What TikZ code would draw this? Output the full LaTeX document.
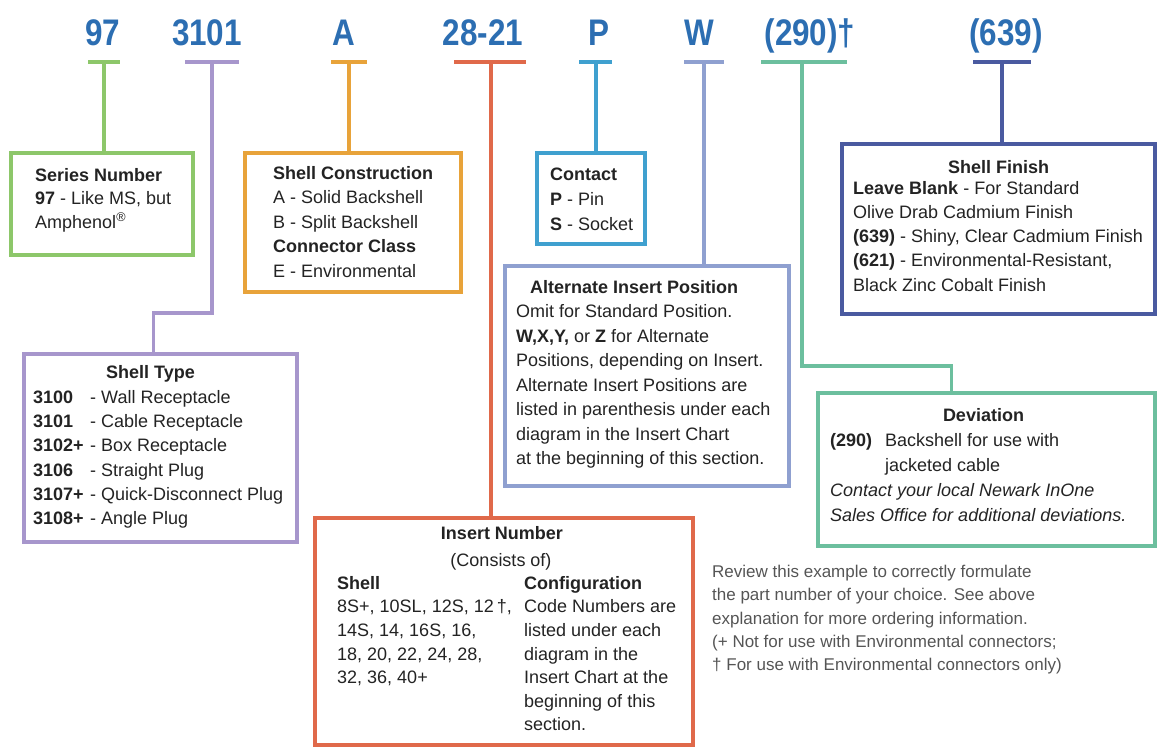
\documentclass[tikz,border=0pt]{standalone}
\usepackage{fontspec}
\setmainfont{Liberation Sans}
\newfontfamily\partfont[FakeStretch=0.85]{Liberation Sans}
\usetikzlibrary{positioning}
\definecolor{cPart}{RGB}{44,110,178}
\definecolor{cInk}{RGB}{35,35,35}
\definecolor{cNote}{RGB}{85,85,85}
\definecolor{cGreen}{RGB}{141,199,106}
\definecolor{cLilac}{RGB}{167,150,204}
\definecolor{cOrange}{RGB}{232,163,58}
\definecolor{cRed}{RGB}{224,105,74}
\definecolor{cSky}{RGB}{63,160,207}
\definecolor{cPeri}{RGB}{143,160,208}
\definecolor{cTeal}{RGB}{108,191,158}
\definecolor{cNavy}{RGB}{74,90,160}
\tikzset{
	partno/.style  ={font=\partfont\bfseries\fontsize{37}{37}\selectfont, text=cPart, inner sep=0pt, anchor=base},
	tick/.style    ={line width=4.5pt},
	lead/.style    ={line width=3.5pt},
	infobox/.style ={rectangle, line width=3.5pt, anchor=north west, inner sep=0pt, outer sep=0pt},
	infotext/.style={align=left, inner sep=0pt, text=cInk, font=\fontsize{18}{24}\selectfont},
	infohead/.style={inner sep=0pt, text=cInk, font=\bfseries\fontsize{18}{24}\selectfont},
}
\begin{document}
\begin{tikzpicture}[x=1pt, y=-1pt]
	\useasboundingbox (0,0) rectangle (1157,747);
	% part number
	\node[partno] (pSeries)  at (103,45)  {97};
	\node[partno] (pShell)   at (207,45)  {3101};
	\node[partno] (pBack)    at (344,45)  {A};
	\node[partno] (pInsert)  at (483,45)  {28-21};
	\node[partno] (pContact) at (599,45)  {P};
	\node[partno] (pAlt)     at (699,45)  {W};
	\node[partno] (pDev)     at (810,45)  {(290)†};
	\node[partno] (pFinish)  at (1006,45) {(639)};
	\coordinate (tSeries)  at (104,62);
	\coordinate (tShell)   at (212,62);
	\coordinate (tBack)    at (349,62);
	\coordinate (tInsert)  at (491,62);
	\coordinate (tContact) at (596,62);
	\coordinate (tAlt)     at (704,62);
	\coordinate (tDev)     at (802,62);
	\coordinate (tFinish)  at (1002,62);
	% boxes
	\node[infobox, draw=cGreen,  minimum width=182pt, minimum height=102pt] (series)    at (11,153)  {};
	\node[infobox, draw=cOrange, minimum width=216pt, minimum height=139pt] (shellcon)  at (245,153) {};
	\node[infobox, draw=cSky,    minimum width=108pt, minimum height=91pt]  (contact)   at (537,153) {};
	\node[infobox, draw=cPeri,   minimum width=284pt, minimum height=220pt] (altpos)    at (505,266) {};
	\node[infobox, draw=cNavy,   minimum width=313pt, minimum height=170pt] (finish)    at (842,144) {};
	\node[infobox, draw=cTeal,   minimum width=337pt, minimum height=153pt] (deviation) at (818,393) {};
	\node[infobox, draw=cLilac,  minimum width=273pt, minimum height=188pt] (shelltype) at (24,354)  {};
	\node[infobox, draw=cRed,    minimum width=378pt, minimum height=227pt] (insert)    at (315,518) {};
	% ticks and leads
	\draw[tick, cGreen]  ([xshift=-16pt]tSeries)  -- ([xshift=16pt]tSeries);
	\draw[tick, cLilac]  ([xshift=-27pt]tShell)   -- ([xshift=27pt]tShell);
	\draw[tick, cOrange] ([xshift=-18pt]tBack)    -- ([xshift=18pt]tBack);
	\draw[tick, cRed]    ([xshift=-37pt]tInsert)  -- ([xshift=35pt]tInsert);
	\draw[tick, cSky]    ([xshift=-17pt]tContact) -- ([xshift=16pt]tContact);
	\draw[tick, cPeri]   ([xshift=-20pt]tAlt)     -- ([xshift=20pt]tAlt);
	\draw[tick, cTeal]   ([xshift=-41pt]tDev)     -- ([xshift=45pt]tDev);
	\draw[tick, cNavy]   ([xshift=-29pt]tFinish)  -- ([xshift=29pt]tFinish);
	\draw[lead, cGreen]  (tSeries) -- (tSeries |- series.north);
	\draw[lead, cLilac]  (tShell) -- ++(0,251) -| ([xshift=-7pt]shelltype.north);
	\draw[lead, cOrange] (tBack) -- (tBack |- shellcon.north);
	\draw[lead, cRed]    (tInsert) -- (tInsert |- insert.north);
	\draw[lead, cSky]    (tContact) -- (tContact |- contact.north);
	\draw[lead, cPeri]   (tAlt) -- (tAlt |- altpos.north);
	\draw[lead, cTeal]   (tDev) -- ++(0,304) -| ([xshift=-35pt]deviation.north);
	\draw[lead, cNavy]   (tFinish) -- (tFinish |- finish.north);
	% box texts
	\node[infotext, below right=15pt and 24pt of series.north west, font=\fontsize{18}{23.5}\selectfont] (seriesTxt)
		{\textbf{Series Number}\\ \textbf{97} - Like MS, but\\ Amphenol\textsuperscript{®}};
	\node[infotext, below right=13pt and 28pt of shellcon.north west, font=\fontsize{18}{24.5}\selectfont] (shellconTxt)
		{\textbf{Shell Construction}\\ A - Solid Backshell\\ B - Split Backshell\\ \textbf{Connector Class}\\ E - Environmental};
	\node[infotext, below right=15pt and 13pt of contact.north west, font=\fontsize{18}{25}\selectfont] (contactTxt)
		{\textbf{Contact}\\ \textbf{P} - Pin\\ \textbf{S} - Socket};
	\node[infotext, below right=14pt and 11pt of altpos.north west, font=\fontsize{18}{24.5}\selectfont] (altposTxt)
		{\hspace*{14pt}\textbf{Alternate Insert Position}\\ Omit for Standard Position.\\ \textbf{W,X,Y,} or \textbf{Z} for Alternate\\ Positions, depending on Insert.\\ Alternate Insert Positions are\\ listed in parenthesis under each\\ diagram in the Insert Chart\\ at the beginning of this section.};
	\node[infohead, below=16pt of finish.north] (finishHd) {Shell Finish};
	\node[infotext, below right=37pt and 11pt of finish.north west, font=\fontsize{18}{24.25}\selectfont] (finishTxt)
		{\textbf{Leave Blank} - For Standard\\ Olive Drab Cadmium Finish\\ \textbf{(639)} - Shiny, Clear Cadmium Finish\\ \textbf{(621)} - Environmental-Resistant,\\ Black Zinc Cobalt Finish};
	\node[infohead, below=15pt of deviation.north, xshift=-3pt] (deviationHd) {Deviation};
	\node[infotext, below right=40pt and 12pt of deviation.north west, font=\fontsize{18}{25}\selectfont] (deviationTxt)
		{\makebox[55pt][l]{\textbf{(290)}}Backshell for use with\\ \hspace*{55pt}jacketed cable\\ \textit{Contact your local Newark InOne}\\ \textit{Sales Office for additional deviations.}};
	\node[infohead, below=11pt of shelltype.north, xshift=-10pt] (shelltypeHd) {Shell Type};
	\node[infotext, below right=36pt and 9pt of shelltype.north west, font=\fontsize{18}{24.3}\selectfont] (shelltypeTxt)
		{\makebox[57pt][l]{\textbf{3100}}- Wall Receptacle\\
		 \makebox[57pt][l]{\textbf{3101}}- Cable Receptacle\\
		 \makebox[57pt][l]{\textbf{3102+}}- Box Receptacle\\
		 \makebox[57pt][l]{\textbf{3106}}- Straight Plug\\
		 \makebox[57pt][l]{\textbf{3107+}}- Quick-Disconnect Plug\\
		 \makebox[57pt][l]{\textbf{3108+}}- Angle Plug};
	\node[infohead, below=8pt of insert.north, xshift=-2pt] (insertHd) {Insert Number};
	\node[infotext, below=35pt of insert.north, xshift=-3pt] (insertSub) {(Consists of)};
	\node[infotext, below right=58pt and 22pt of insert.north west, font=\fontsize{18}{23.6}\selectfont] (insertShell)
		{\textbf{Shell}\\ 8S+, 10SL, 12S, 12\,†,\\ 14S, 14, 16S, 16,\\ 18, 20, 22, 24, 28,\\ 32, 36, 40+};
	\node[infotext, below right=58pt and 209pt of insert.north west, font=\fontsize{18}{23.6}\selectfont] (insertConf)
		{\textbf{Configuration}\\ Code Numbers are\\ listed under each\\ diagram in the\\ Insert Chart at the\\ beginning of this\\ section.};
	% note
	\node[infotext, anchor=north west, text=cNote, font=\fontsize{17}{23.3}\selectfont] (note) at (712,565)
		{Review this example to correctly formulate\\ the part number of your choice. See above\\ explanation for more ordering information.\\ (+ Not for use with Environmental connectors;\\ † For use with Environmental connectors only)};
\end{tikzpicture}
\end{document}
